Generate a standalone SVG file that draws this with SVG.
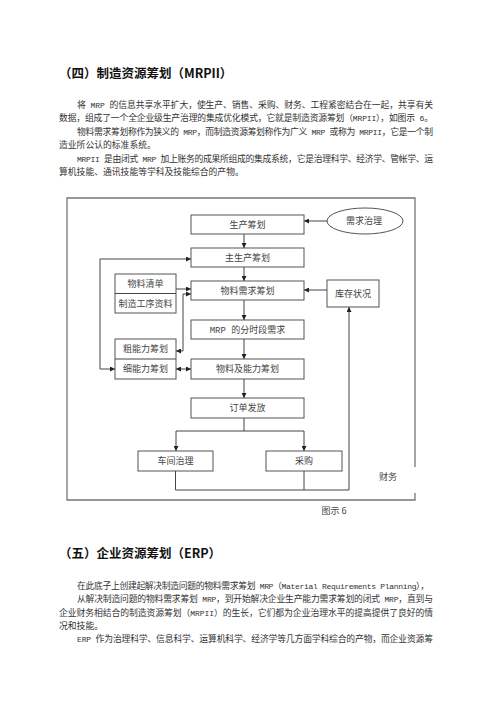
<svg xmlns="http://www.w3.org/2000/svg" width="500" height="708" viewBox="0 0 500 708">
<style>
.t{font-family:"Noto Sans CJK SC","Noto Sans",sans-serif;font-size:8.8px;fill:#333}
.h{font-family:"Noto Sans CJK SC","Noto Sans",sans-serif;font-size:12.5px;font-weight:bold;fill:#111}
.lat{font-family:"Liberation Mono",monospace;font-size:8px}
.n{font-family:"Noto Sans CJK SC","Noto Sans",sans-serif;font-size:9px;fill:#444;text-anchor:middle}
.box{fill:#fff;stroke:#555;stroke-width:1}
.ln{fill:none;stroke:#444;stroke-width:1}
.ar{fill:none;stroke:#444;stroke-width:1;marker-end:url(#ah)}
.ar2{fill:none;stroke:#444;stroke-width:1;marker-end:url(#ah);marker-start:url(#ah)}
.frame{fill:none;stroke:#777;stroke-width:1.3}
</style>
<defs>
<marker id="ah" viewBox="0 0 6 6" refX="6" refY="3" markerWidth="5" markerHeight="5" markerUnits="userSpaceOnUse" orient="auto-start-reverse">
<path d="M0,0 L6,3 L0,6 z" fill="#222"/>
</marker>
</defs>
<rect width="500" height="708" fill="#fff"/>

<text class="h" x="59" y="78">（四）制造资源筹划（MRPII）</text>
<text class="t" x="77" y="107.5" textLength="356" lengthAdjust="spacing">将<tspan class="lat"> MRP </tspan>的信息共享水平扩大，使生产、销售、采购、财务、工程紧密结合在一起，共享有关</text>
<text class="t" x="59" y="121" textLength="374" lengthAdjust="spacing">数据，组成了一个全企业级生产治理的集成优化模式，它就是制造资源筹划（<tspan class="lat">MRPII</tspan>），如图示<tspan class="lat"> 6</tspan>。</text>
<text class="t" x="77" y="134.5" textLength="356" lengthAdjust="spacing">物料需求筹划称作为狭义的<tspan class="lat"> MRP</tspan>，而制造资源筹划称作为广义<tspan class="lat"> MRP </tspan>或称为<tspan class="lat"> MRPII</tspan>，它是一个制</text>
<text class="t" x="59" y="148">造业所公认的标准系统。</text>
<text class="t" x="77" y="161.5" textLength="356" lengthAdjust="spacing"><tspan class="lat">MRPII </tspan>是由闭式<tspan class="lat"> MRP </tspan>加上账务的成果所组成的集成系统，它是治理科学、经济学、管帐学、运</text>
<text class="t" x="59" y="175">算机技能、通讯技能等学科及技能综合的产物。</text>

<path class="frame" d="M415,467 L415,198 L67,198 L67,500 L415,500 L415,493"/>
<text class="n" x="388" y="480">财务</text>
<text class="n" x="334" y="514">图示 6</text>

<g id="connectors">
<path class="ar" d="M244,234 L244,248"/>
<path class="ar" d="M244,267 L244,281"/>
<path class="ar" d="M244,300 L244,320"/>
<path class="ar" d="M244,339 L244,359"/>
<path class="ar" d="M244,379 L244,398"/>
<path class="ar" d="M327,221 L304,221"/>
<path class="ar" d="M327,290 L304,290"/>
<path class="ar" d="M176,289 L191,289"/>
<path class="ar2" d="M176,351 L183,351 L183,294 L191,294"/>
<path class="ar2" d="M176,369 L191,369"/>
<path class="ar2" d="M191,259 L100,259 L100,369 L115,369"/>
<path class="ln" d="M244,418 L244,431 M176,431 L304,431"/>
<path class="ar" d="M176,431 L176,451"/>
<path class="ar" d="M304,431 L304,451"/>
<path class="ln" d="M304,471 L304,490"/>
<path class="ar" d="M175.5,471 L175.5,490 L349,490 L349,307"/>
</g>

<g id="n-scjh"><rect class="box" x="191" y="215" width="113" height="19"/><text class="n" x="247.5" y="227.7">生产筹划</text></g>
<g id="n-xqzl"><ellipse class="box" cx="365" cy="221" rx="38" ry="13"/><text class="n" x="364" y="224.2">需求治理</text></g>
<g id="n-zscjh"><rect class="box" x="191" y="248" width="113" height="19"/><text class="n" x="247.5" y="260.7">主生产筹划</text></g>
<g id="n-wlxq"><rect class="box" x="191" y="281" width="113" height="19"/><text class="n" x="247.5" y="293.7">物料需求筹划</text></g>
<g id="n-kczk"><rect class="box" x="327" y="280" width="52" height="27"/><text class="n" x="353" y="296.7">库存状况</text></g>
<g id="n-wlqd"><rect class="box" x="115" y="274" width="61" height="39"/><path class="ln" d="M115,293.5 L176,293.5"/><text class="n" x="145.5" y="287">物料清单</text><text class="n" x="145.5" y="306.5">制造工序资料</text></g>
<g id="n-mrp"><rect class="box" x="191" y="320" width="113" height="19"/><text class="n" x="247.5" y="332.7"><tspan font-family="Liberation Mono, monospace">MRP </tspan>的分时段需求</text></g>
<g id="n-nl"><rect class="box" x="115" y="339" width="61" height="40"/><path class="ln" d="M115,359 L176,359"/><text class="n" x="145.5" y="352.2">粗能力筹划</text><text class="n" x="145.5" y="372.2">细能力筹划</text></g>
<g id="n-wlnl"><rect class="box" x="191" y="359" width="113" height="20"/><text class="n" x="247.5" y="372.2">物料及能力筹划</text></g>
<g id="n-ddff"><rect class="box" x="191" y="398" width="113" height="20"/><text class="n" x="247.5" y="411.2">订单发放</text></g>
<g id="n-cjzl"><rect class="box" x="138" y="451" width="75" height="20"/><text class="n" x="175.5" y="464.2">车间治理</text></g>
<g id="n-cg"><rect class="box" x="266" y="451" width="76" height="20"/><text class="n" x="304" y="464.2">采购</text></g>

<text class="h" x="59" y="557.5">（五）企业资源筹划（ERP）</text>
<text class="t" x="77" y="588.5" textLength="352" lengthAdjust="spacing">在此底子上创建起解决制造问题的物料需求筹划<tspan class="lat"> MRP</tspan>（<tspan class="lat">Material Requirements Planning</tspan>），</text>
<text class="t" x="77" y="602" textLength="356" lengthAdjust="spacing">从解决制造问题的物料需求筹划<tspan class="lat"> MRP</tspan>，到开始解决企业生产能力需求筹划的闭式<tspan class="lat"> MRP</tspan>，直到与</text>
<text class="t" x="59" y="615.5" textLength="374" lengthAdjust="spacing">企业财务相结合的制造资源筹划（<tspan class="lat">MRPII</tspan>）的生长，它们都为企业治理水平的提高提供了良好的情</text>
<text class="t" x="59" y="629">况和技能。</text>
<text class="t" x="77" y="642" textLength="356" lengthAdjust="spacing"><tspan class="lat">ERP </tspan>作为治理科学、信息科学、运算机科学、经济学等几方面学科综合的产物，而企业资源筹</text>
</svg>
